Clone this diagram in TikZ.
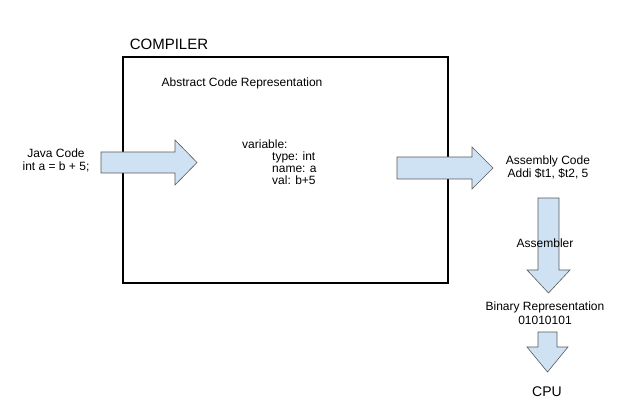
\documentclass[tikz,border=0pt]{standalone}
\usepackage{fontspec}
\setmainfont{Liberation Sans}
\definecolor{arrowfill}{HTML}{CFE2F3}
\definecolor{arrowline}{HTML}{595959}
\begin{document}
\begin{tikzpicture}[x=1pt,y=-1pt,
  blockarrow/.style={fill=arrowfill,draw=arrowline,line width=0.6pt,line join=miter},
  smalltxt/.style={font=\fontsize{12}{13.5}\selectfont,inner sep=0pt,align=center},
  bigtxt/.style={font=\fontsize{15}{17}\selectfont,inner sep=0pt},
  codeline/.style={font=\fontsize{12}{13.5}\selectfont,inner sep=0pt,anchor=base west}]
\useasboundingbox (0,0) rectangle (624,414);
% compiler box
\draw[line width=2.2pt] (123,57) rectangle (448,283);
\node[bigtxt] (compiler) at (169,44) {COMPILER};
\node[smalltxt] (abstract) at (242,83) {Abstract Code Representation};
% left arrow
\draw[blockarrow] (101,152) -- (175,152) -- (175,140) -- (197,162.5) -- (175,185) -- (175,173) -- (101,173) -- cycle;
\node[smalltxt] (java) at (56,160.5) {Java Code\\int a = b + 5;};
% variable block
\node[codeline] (v1) at (242,149) {variable:};
\node[codeline] (v2) at (272,161) {type: int};
\node[codeline] (v3) at (272,173) {name: a};
\node[codeline] (v4) at (272,185) {val: b+5};
% right arrow
\draw[blockarrow] (397,157) -- (472,157) -- (472,147) -- (493,168) -- (472,189) -- (472,179) -- (397,179) -- cycle;
\node[smalltxt] (asm) at (548,167.5) {Assembly Code\\Addi \$t1, \$t2, 5};
% down arrow 1
\draw[blockarrow] (538,198) -- (559,198) -- (559,270) -- (570,270) -- (548.5,293) -- (527,270) -- (538,270) -- cycle;
\node[smalltxt] (assembler) at (545,243) {Assembler};
\node[smalltxt] (binary) at (545,313) {Binary Representation\\01010101};
% down arrow 2
\draw[blockarrow] (538,332) -- (557,332) -- (557,347) -- (568,347) -- (547.5,372) -- (527,347) -- (538,347) -- cycle;
\node[bigtxt,font=\fontsize{14}{16}\selectfont] (cpu) at (547,392) {CPU};
\end{tikzpicture}
\end{document}
